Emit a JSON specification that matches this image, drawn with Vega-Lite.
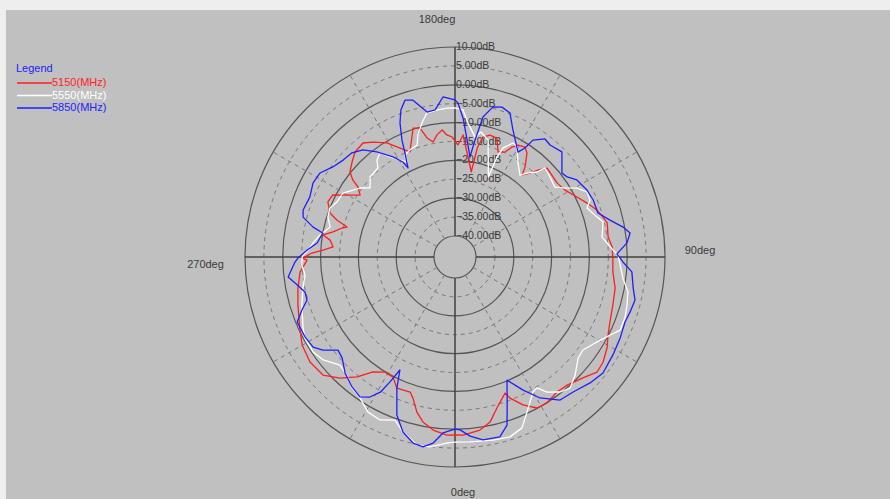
{
  "$schema": "https://vega.github.io/schema/vega-lite/v6.json",
  "width": 890,
  "height": 499,
  "padding": 0,
  "autosize": {"type": "none"},
  "background": "#eeeeee",
  "config": {"view": {"stroke": null}, "font": "Liberation Sans"},
  "datasets": {
    "rings": [{"db": 10}, {"db": 5}, {"db": 0}, {"db": -5}, {"db": -10}, {"db": -15}, {"db": -20}, {"db": -25}, {"db": -30}, {"db": -35}, {"db": -40}],
    "spokes": [{"angle": 0}, {"angle": 30}, {"angle": 60}, {"angle": 90}, {"angle": 120}, {"angle": 150}, {"angle": 180}, {"angle": 210}, {"angle": 240}, {"angle": 270}, {"angle": 300}, {"angle": 330}],
    "pattern": [
      {"freq": "5150(MHz)", "angle": 0, "db": 1.5}, {"freq": "5150(MHz)", "angle": 2.6, "db": 1.6}, {"freq": "5150(MHz)", "angle": 8.2, "db": 0.7}, {"freq": "5150(MHz)", "angle": 12.0, "db": -0.9}, {"freq": "5150(MHz)", "angle": 15.5, "db": -4.1}, {"freq": "5150(MHz)", "angle": 20.2, "db": -7.2}, {"freq": "5150(MHz)", "angle": 21.3, "db": -5.5}, {"freq": "5150(MHz)", "angle": 24.7, "db": -2.5}, {"freq": "5150(MHz)", "angle": 28.5, "db": -0.1}, {"freq": "5150(MHz)", "angle": 32.2, "db": 0.1}, {"freq": "5150(MHz)", "angle": 37.1, "db": -0.8}, {"freq": "5150(MHz)", "angle": 41.2, "db": -0.5}, {"freq": "5150(MHz)", "angle": 46.6, "db": 1.0}, {"freq": "5150(MHz)", "angle": 51.0, "db": 2.8}, {"freq": "5150(MHz)", "angle": 54.6, "db": 2.5}, {"freq": "5150(MHz)", "angle": 59.1, "db": 1.3}, {"freq": "5150(MHz)", "angle": 63.0, "db": -0.1}, {"freq": "5150(MHz)", "angle": 67.2, "db": -1.1}, {"freq": "5150(MHz)", "angle": 73.1, "db": -1.9}, {"freq": "5150(MHz)", "angle": 79.0, "db": -2.4}, {"freq": "5150(MHz)", "angle": 84.6, "db": -3.6}, {"freq": "5150(MHz)", "angle": 89.6, "db": -3.8}, {"freq": "5150(MHz)", "angle": 93.6, "db": -3.9}, {"freq": "5150(MHz)", "angle": 97.4, "db": -4.7}, {"freq": "5150(MHz)", "angle": 102.6, "db": -4.3}, {"freq": "5150(MHz)", "angle": 105.1, "db": -5.0}, {"freq": "5150(MHz)", "angle": 108.3, "db": -6.0}, {"freq": "5150(MHz)", "angle": 112.2, "db": -7.8}, {"freq": "5150(MHz)", "angle": 116.2, "db": -9.6}, {"freq": "5150(MHz)", "angle": 121.3, "db": -11.5}, {"freq": "5150(MHz)", "angle": 126.0, "db": -12.2}, {"freq": "5150(MHz)", "angle": 130.2, "db": -12.0}, {"freq": "5150(MHz)", "angle": 134.0, "db": -11.7}, {"freq": "5150(MHz)", "angle": 136.3, "db": -13.8}, {"freq": "5150(MHz)", "angle": 138.2, "db": -15.8}, {"freq": "5150(MHz)", "angle": 140.7, "db": -17.5}, {"freq": "5150(MHz)", "angle": 142.1, "db": -15.4}, {"freq": "5150(MHz)", "angle": 145.3, "db": -12.1}, {"freq": "5150(MHz)", "angle": 147.5, "db": -11.1}, {"freq": "5150(MHz)", "angle": 150.6, "db": -11.6}, {"freq": "5150(MHz)", "angle": 152.6, "db": -12.8}, {"freq": "5150(MHz)", "angle": 154.5, "db": -14.8}, {"freq": "5150(MHz)", "angle": 157.7, "db": -15.5}, {"freq": "5150(MHz)", "angle": 160.6, "db": -12.2}, {"freq": "5150(MHz)", "angle": 164.0, "db": -12.0}, {"freq": "5150(MHz)", "angle": 166.9, "db": -13.0}, {"freq": "5150(MHz)", "angle": 168.4, "db": -15.9}, {"freq": "5150(MHz)", "angle": 169.2, "db": -22.6}, {"freq": "5150(MHz)", "angle": 176.2, "db": -13.2}, {"freq": "5150(MHz)", "angle": 178.5, "db": -15.9}, {"freq": "5150(MHz)", "angle": 181.4, "db": -13.8}, {"freq": "5150(MHz)", "angle": 183.8, "db": -13.2}, {"freq": "5150(MHz)", "angle": 185.8, "db": -11.8}, {"freq": "5150(MHz)", "angle": 188.4, "db": -12.9}, {"freq": "5150(MHz)", "angle": 190.8, "db": -14.6}, {"freq": "5150(MHz)", "angle": 193.2, "db": -13.2}, {"freq": "5150(MHz)", "angle": 195.2, "db": -10.2}, {"freq": "5150(MHz)", "angle": 198.0, "db": -9.7}, {"freq": "5150(MHz)", "angle": 203.2, "db": -15.3}, {"freq": "5150(MHz)", "angle": 207.8, "db": -12.6}, {"freq": "5150(MHz)", "angle": 210.8, "db": -10.4}, {"freq": "5150(MHz)", "angle": 215.5, "db": -8.2}, {"freq": "5150(MHz)", "angle": 218.9, "db": -6.8}, {"freq": "5150(MHz)", "angle": 223.6, "db": -7.2}, {"freq": "5150(MHz)", "angle": 227.3, "db": -8.5}, {"freq": "5150(MHz)", "angle": 231.0, "db": -9.8}, {"freq": "5150(MHz)", "angle": 233.0, "db": -11.7}, {"freq": "5150(MHz)", "angle": 234.2, "db": -13.9}, {"freq": "5150(MHz)", "angle": 236.9, "db": -15.6}, {"freq": "5150(MHz)", "angle": 238.7, "db": -14.0}, {"freq": "5150(MHz)", "angle": 243.1, "db": -9.3}, {"freq": "5150(MHz)", "angle": 246.6, "db": -8.9}, {"freq": "5150(MHz)", "angle": 250.6, "db": -10.5}, {"freq": "5150(MHz)", "angle": 252.6, "db": -12.8}, {"freq": "5150(MHz)", "angle": 254.5, "db": -15.9}, {"freq": "5150(MHz)", "angle": 255.6, "db": -14.7}, {"freq": "5150(MHz)", "angle": 258.4, "db": -12.6}, {"freq": "5150(MHz)", "angle": 260.5, "db": -10.2}, {"freq": "5150(MHz)", "angle": 262.3, "db": -12.2}, {"freq": "5150(MHz)", "angle": 265.3, "db": -13.2}, {"freq": "5150(MHz)", "angle": 267.0, "db": -10.6}, {"freq": "5150(MHz)", "angle": 268.4, "db": -7.7}, {"freq": "5150(MHz)", "angle": 270.4, "db": -5.3}, {"freq": "5150(MHz)", "angle": 271.2, "db": -6.4}, {"freq": "5150(MHz)", "angle": 275.5, "db": -4.4}, {"freq": "5150(MHz)", "angle": 281.2, "db": -3.2}, {"freq": "5150(MHz)", "angle": 287.0, "db": -2.1}, {"freq": "5150(MHz)", "angle": 294.6, "db": -0.4}, {"freq": "5150(MHz)", "angle": 299.9, "db": 1.1}, {"freq": "5150(MHz)", "angle": 305.9, "db": 1.8}, {"freq": "5150(MHz)", "angle": 311.8, "db": 1.3}, {"freq": "5150(MHz)", "angle": 316.5, "db": -1.4}, {"freq": "5150(MHz)", "angle": 320.8, "db": -4.6}, {"freq": "5150(MHz)", "angle": 324.5, "db": -8.2}, {"freq": "5150(MHz)", "angle": 328.7, "db": -9.9}, {"freq": "5150(MHz)", "angle": 332.7, "db": -9.8}, {"freq": "5150(MHz)", "angle": 336.1, "db": -7.6}, {"freq": "5150(MHz)", "angle": 341.6, "db": -7.9}, {"freq": "5150(MHz)", "angle": 343.4, "db": -6.6}, {"freq": "5150(MHz)", "angle": 346.2, "db": -3.3}, {"freq": "5150(MHz)", "angle": 349.0, "db": -1.1}, {"freq": "5150(MHz)", "angle": 352.8, "db": 0.6}, {"freq": "5150(MHz)", "angle": 357.4, "db": 1.6}, {"freq": "5150(MHz)", "angle": 360, "db": 1.5},
      {"freq": "5550(MHz)", "angle": 0, "db": 3.4}, {"freq": "5550(MHz)", "angle": 4.6, "db": 3.5}, {"freq": "5550(MHz)", "angle": 11.7, "db": 3.9}, {"freq": "5550(MHz)", "angle": 17.0, "db": 4.2}, {"freq": "5550(MHz)", "angle": 21.4, "db": 3.0}, {"freq": "5550(MHz)", "angle": 24.9, "db": -0.3}, {"freq": "5550(MHz)", "angle": 30.0, "db": -4.3}, {"freq": "5550(MHz)", "angle": 32.0, "db": -4.7}, {"freq": "5550(MHz)", "angle": 34.3, "db": -2.3}, {"freq": "5550(MHz)", "angle": 37.9, "db": -0.3}, {"freq": "5550(MHz)", "angle": 41.3, "db": 0.6}, {"freq": "5550(MHz)", "angle": 45.5, "db": -1.0}, {"freq": "5550(MHz)", "angle": 50.6, "db": -3.4}, {"freq": "5550(MHz)", "angle": 54.0, "db": -3.7}, {"freq": "5550(MHz)", "angle": 59.1, "db": -1.8}, {"freq": "5550(MHz)", "angle": 63.3, "db": 0.4}, {"freq": "5550(MHz)", "angle": 66.1, "db": 2.2}, {"freq": "5550(MHz)", "angle": 70.3, "db": 2.2}, {"freq": "5550(MHz)", "angle": 74.4, "db": 1.7}, {"freq": "5550(MHz)", "angle": 78.6, "db": 1.1}, {"freq": "5550(MHz)", "angle": 82.9, "db": -0.8}, {"freq": "5550(MHz)", "angle": 87.2, "db": -1.8}, {"freq": "5550(MHz)", "angle": 90.7, "db": -2.4}, {"freq": "5550(MHz)", "angle": 92.5, "db": -3.7}, {"freq": "5550(MHz)", "angle": 95.3, "db": -5.2}, {"freq": "5550(MHz)", "angle": 97.7, "db": -6.3}, {"freq": "5550(MHz)", "angle": 103.3, "db": -5.3}, {"freq": "5550(MHz)", "angle": 105.7, "db": -6.5}, {"freq": "5550(MHz)", "angle": 110.4, "db": -8.3}, {"freq": "5550(MHz)", "angle": 112.9, "db": -6.8}, {"freq": "5550(MHz)", "angle": 116.2, "db": -6.6}, {"freq": "5550(MHz)", "angle": 119.5, "db": -8.5}, {"freq": "5550(MHz)", "angle": 122.6, "db": -11.6}, {"freq": "5550(MHz)", "angle": 125.0, "db": -13.3}, {"freq": "5550(MHz)", "angle": 130.1, "db": -12.7}, {"freq": "5550(MHz)", "angle": 134.7, "db": -12.1}, {"freq": "5550(MHz)", "angle": 136.0, "db": -14.3}, {"freq": "5550(MHz)", "angle": 139.0, "db": -16.1}, {"freq": "5550(MHz)", "angle": 141.6, "db": -17.9}, {"freq": "5550(MHz)", "angle": 146.2, "db": -15.6}, {"freq": "5550(MHz)", "angle": 150.6, "db": -12.1}, {"freq": "5550(MHz)", "angle": 153.0, "db": -11.7}, {"freq": "5550(MHz)", "angle": 156.2, "db": -14.0}, {"freq": "5550(MHz)", "angle": 157.2, "db": -16.8}, {"freq": "5550(MHz)", "angle": 157.4, "db": -22.6}, {"freq": "5550(MHz)", "angle": 164.2, "db": -13.4}, {"freq": "5550(MHz)", "angle": 168.3, "db": -11.8}, {"freq": "5550(MHz)", "angle": 170.5, "db": -13.4}, {"freq": "5550(MHz)", "angle": 174.5, "db": -9.9}, {"freq": "5550(MHz)", "angle": 176.9, "db": -6.6}, {"freq": "5550(MHz)", "angle": 180, "db": -6.1}, {"freq": "5550(MHz)", "angle": 183.1, "db": -6.1}, {"freq": "5550(MHz)", "angle": 187.0, "db": -6.4}, {"freq": "5550(MHz)", "angle": 191.0, "db": -6.7}, {"freq": "5550(MHz)", "angle": 193.8, "db": -9.0}, {"freq": "5550(MHz)", "angle": 196.9, "db": -11.8}, {"freq": "5550(MHz)", "angle": 198.7, "db": -14.3}, {"freq": "5550(MHz)", "angle": 202.8, "db": -14.8}, {"freq": "5550(MHz)", "angle": 206.1, "db": -15.5}, {"freq": "5550(MHz)", "angle": 206.8, "db": -17.4}, {"freq": "5550(MHz)", "angle": 209.6, "db": -16.1}, {"freq": "5550(MHz)", "angle": 213.0, "db": -14.0}, {"freq": "5550(MHz)", "angle": 215.8, "db": -11.6}, {"freq": "5550(MHz)", "angle": 218.8, "db": -12.6}, {"freq": "5550(MHz)", "angle": 220.9, "db": -14.4}, {"freq": "5550(MHz)", "angle": 226.7, "db": -14.7}, {"freq": "5550(MHz)", "angle": 230.9, "db": -16.6}, {"freq": "5550(MHz)", "angle": 234.0, "db": -14.5}, {"freq": "5550(MHz)", "angle": 236.7, "db": -13.3}, {"freq": "5550(MHz)", "angle": 240.3, "db": -11.4}, {"freq": "5550(MHz)", "angle": 245.0, "db": -11.1}, {"freq": "5550(MHz)", "angle": 248.6, "db": -10.0}, {"freq": "5550(MHz)", "angle": 252.5, "db": -10.3}, {"freq": "5550(MHz)", "angle": 256.5, "db": -11.6}, {"freq": "5550(MHz)", "angle": 260.7, "db": -9.4}, {"freq": "5550(MHz)", "angle": 264.4, "db": -7.8}, {"freq": "5550(MHz)", "angle": 267.3, "db": -6.6}, {"freq": "5550(MHz)", "angle": 270, "db": -5.1}, {"freq": "5550(MHz)", "angle": 273.0, "db": -5.0}, {"freq": "5550(MHz)", "angle": 276.8, "db": -5.6}, {"freq": "5550(MHz)", "angle": 281.5, "db": -4.5}, {"freq": "5550(MHz)", "angle": 287.4, "db": -3.1}, {"freq": "5550(MHz)", "angle": 295.0, "db": -1.2}, {"freq": "5550(MHz)", "angle": 298.4, "db": -0.4}, {"freq": "5550(MHz)", "angle": 303.8, "db": -0.4}, {"freq": "5550(MHz)", "angle": 308.0, "db": -1.3}, {"freq": "5550(MHz)", "angle": 313.2, "db": -3.8}, {"freq": "5550(MHz)", "angle": 317.5, "db": -3.2}, {"freq": "5550(MHz)", "angle": 321.8, "db": -1.5}, {"freq": "5550(MHz)", "angle": 326.0, "db": -0.6}, {"freq": "5550(MHz)", "angle": 330.7, "db": 1.5}, {"freq": "5550(MHz)", "angle": 335.3, "db": 1.9}, {"freq": "5550(MHz)", "angle": 339.8, "db": 0.4}, {"freq": "5550(MHz)", "angle": 343.5, "db": 2.8}, {"freq": "5550(MHz)", "angle": 348.6, "db": 5.2}, {"freq": "5550(MHz)", "angle": 352.5, "db": 5.1}, {"freq": "5550(MHz)", "angle": 357.5, "db": 3.7}, {"freq": "5550(MHz)", "angle": 360, "db": 3.4},
      {"freq": "5850(MHz)", "angle": 0, "db": 0.0}, {"freq": "5850(MHz)", "angle": 1.7, "db": 0.2}, {"freq": "5850(MHz)", "angle": 4.8, "db": 2.0}, {"freq": "5850(MHz)", "angle": 8.7, "db": 3.4}, {"freq": "5850(MHz)", "angle": 14.0, "db": 3.5}, {"freq": "5850(MHz)", "angle": 17.2, "db": 1.0}, {"freq": "5850(MHz)", "angle": 19.4, "db": -4.0}, {"freq": "5850(MHz)", "angle": 22.9, "db": -10.2}, {"freq": "5850(MHz)", "angle": 27.1, "db": -6.0}, {"freq": "5850(MHz)", "angle": 31.1, "db": -2.0}, {"freq": "5850(MHz)", "angle": 36.3, "db": 1.4}, {"freq": "5850(MHz)", "angle": 41.2, "db": 1.9}, {"freq": "5850(MHz)", "angle": 47.0, "db": 3.3}, {"freq": "5850(MHz)", "angle": 51.9, "db": 4.2}, {"freq": "5850(MHz)", "angle": 58.2, "db": 3.6}, {"freq": "5850(MHz)", "angle": 63.9, "db": 3.1}, {"freq": "5850(MHz)", "angle": 69.1, "db": 2.6}, {"freq": "5850(MHz)", "angle": 72.6, "db": 3.0}, {"freq": "5850(MHz)", "angle": 76.6, "db": 3.4}, {"freq": "5850(MHz)", "angle": 80.1, "db": 2.3}, {"freq": "5850(MHz)", "angle": 85.2, "db": 1.4}, {"freq": "5850(MHz)", "angle": 88.3, "db": -1.1}, {"freq": "5850(MHz)", "angle": 91.1, "db": -2.7}, {"freq": "5850(MHz)", "angle": 94.7, "db": 0.1}, {"freq": "5850(MHz)", "angle": 97.8, "db": 1.2}, {"freq": "5850(MHz)", "angle": 100.1, "db": -0.4}, {"freq": "5850(MHz)", "angle": 103.4, "db": -3.4}, {"freq": "5850(MHz)", "angle": 107.1, "db": -6.0}, {"freq": "5850(MHz)", "angle": 112.4, "db": -6.0}, {"freq": "5850(MHz)", "angle": 116.9, "db": -6.4}, {"freq": "5850(MHz)", "angle": 122.3, "db": -7.4}, {"freq": "5850(MHz)", "angle": 125.5, "db": -9.1}, {"freq": "5850(MHz)", "angle": 128.1, "db": -9.6}, {"freq": "5850(MHz)", "angle": 134.5, "db": -5.9}, {"freq": "5850(MHz)", "angle": 139.7, "db": -6.7}, {"freq": "5850(MHz)", "angle": 142.7, "db": -6.3}, {"freq": "5850(MHz)", "angle": 146.3, "db": -8.4}, {"freq": "5850(MHz)", "angle": 147.3, "db": -11.3}, {"freq": "5850(MHz)", "angle": 149.0, "db": -13.2}, {"freq": "5850(MHz)", "angle": 155.5, "db": -8.6}, {"freq": "5850(MHz)", "angle": 159.1, "db": -4.8}, {"freq": "5850(MHz)", "angle": 162.6, "db": -4.0}, {"freq": "5850(MHz)", "angle": 165.8, "db": -4.6}, {"freq": "5850(MHz)", "angle": 168.7, "db": -7.8}, {"freq": "5850(MHz)", "angle": 170.3, "db": -14.2}, {"freq": "5850(MHz)", "angle": 171.5, "db": -18.8}, {"freq": "5850(MHz)", "angle": 174.1, "db": -14.4}, {"freq": "5850(MHz)", "angle": 176.7, "db": -8.7}, {"freq": "5850(MHz)", "angle": 178.9, "db": -4.8}, {"freq": "5850(MHz)", "angle": 180, "db": -4.0}, {"freq": "5850(MHz)", "angle": 184.3, "db": -3.1}, {"freq": "5850(MHz)", "angle": 187.7, "db": -6.3}, {"freq": "5850(MHz)", "angle": 190.9, "db": -6.5}, {"freq": "5850(MHz)", "angle": 195.0, "db": -2.6}, {"freq": "5850(MHz)", "angle": 197.7, "db": -2.0}, {"freq": "5850(MHz)", "angle": 200.2, "db": -4.1}, {"freq": "5850(MHz)", "angle": 202.3, "db": -7.2}, {"freq": "5850(MHz)", "angle": 204.4, "db": -11.6}, {"freq": "5850(MHz)", "angle": 205.7, "db": -15.0}, {"freq": "5850(MHz)", "angle": 207.8, "db": -18.9}, {"freq": "5850(MHz)", "angle": 208.7, "db": -16.9}, {"freq": "5850(MHz)", "angle": 211.8, "db": -14.4}, {"freq": "5850(MHz)", "angle": 216.6, "db": -10.9}, {"freq": "5850(MHz)", "angle": 220.7, "db": -8.2}, {"freq": "5850(MHz)", "angle": 224.7, "db": -6.8}, {"freq": "5850(MHz)", "angle": 229.1, "db": -6.4}, {"freq": "5850(MHz)", "angle": 233.6, "db": -5.4}, {"freq": "5850(MHz)", "angle": 238.1, "db": -3.5}, {"freq": "5850(MHz)", "angle": 242.5, "db": -3.2}, {"freq": "5850(MHz)", "angle": 247.5, "db": -4.0}, {"freq": "5850(MHz)", "angle": 252.8, "db": -3.5}, {"freq": "5850(MHz)", "angle": 255.3, "db": -4.0}, {"freq": "5850(MHz)", "angle": 258.1, "db": -7.2}, {"freq": "5850(MHz)", "angle": 259.7, "db": -10.0}, {"freq": "5850(MHz)", "angle": 264.2, "db": -8.9}, {"freq": "5850(MHz)", "angle": 267.3, "db": -6.4}, {"freq": "5850(MHz)", "angle": 270.4, "db": -4.0}, {"freq": "5850(MHz)", "angle": 271.8, "db": -3.2}, {"freq": "5850(MHz)", "angle": 276.8, "db": -1.1}, {"freq": "5850(MHz)", "angle": 279.2, "db": -2.7}, {"freq": "5850(MHz)", "angle": 283.1, "db": -4.8}, {"freq": "5850(MHz)", "angle": 286.2, "db": -4.8}, {"freq": "5850(MHz)", "angle": 289.1, "db": -2.7}, {"freq": "5850(MHz)", "angle": 292.4, "db": -0.4}, {"freq": "5850(MHz)", "angle": 298.1, "db": -0.6}, {"freq": "5850(MHz)", "angle": 302.4, "db": -1.1}, {"freq": "5850(MHz)", "angle": 305.2, "db": -2.8}, {"freq": "5850(MHz)", "angle": 308.5, "db": -6.0}, {"freq": "5850(MHz)", "angle": 311.8, "db": -5.5}, {"freq": "5850(MHz)", "angle": 316.5, "db": -3.3}, {"freq": "5850(MHz)", "angle": 321.6, "db": -1.7}, {"freq": "5850(MHz)", "angle": 325.8, "db": -0.8}, {"freq": "5850(MHz)", "angle": 328.7, "db": -2.2}, {"freq": "5850(MHz)", "angle": 331.1, "db": -4.7}, {"freq": "5850(MHz)", "angle": 332.5, "db": -8.3}, {"freq": "5850(MHz)", "angle": 334.0, "db": -12.3}, {"freq": "5850(MHz)", "angle": 336.1, "db": -7.6}, {"freq": "5850(MHz)", "angle": 339.8, "db": -1.0}, {"freq": "5850(MHz)", "angle": 343.5, "db": 2.8}, {"freq": "5850(MHz)", "angle": 347.3, "db": 4.9}, {"freq": "5850(MHz)", "angle": 350.4, "db": 5.4}, {"freq": "5850(MHz)", "angle": 353.3, "db": 4.0}, {"freq": "5850(MHz)", "angle": 356.1, "db": 1.1}, {"freq": "5850(MHz)", "angle": 360, "db": 0.0}
    ]
  },
  "layer": [
    {
      "data": {"values": [{}]},
      "mark": {"type": "rect", "fill": "#c0c0c0"},
      "encoding": {
        "x": {"datum": -449, "type": "quantitative", "scale": {"domain": [-455, 435], "nice": false, "zero": false}, "axis": null},
        "x2": {"datum": 435},
        "y": {"datum": -247, "type": "quantitative", "scale": {"domain": [-257, 242], "nice": false, "zero": false, "reverse": true}, "axis": null},
        "y2": {"datum": 242}
      }
    },
    {
      "data": {"name": "rings"},
      "transform": [
        {"filter": "datum.db % 10 != 0"},
        {"calculate": "21 + (datum.db + 40) * 189 / 50", "as": "r"},
        {"calculate": "4 * datum.r * datum.r", "as": "s"}
      ],
      "mark": {"type": "point", "shape": "circle", "filled": false, "stroke": "#777777", "strokeWidth": 1, "strokeDash": [4, 4], "opacity": 1},
      "encoding": {
        "x": {"datum": 0, "type": "quantitative"},
        "y": {"datum": 0, "type": "quantitative"},
        "size": {"field": "s", "type": "quantitative", "scale": null}
      }
    },
    {
      "data": {"name": "rings"},
      "transform": [
        {"filter": "datum.db % 10 == 0"},
        {"calculate": "21 + (datum.db + 40) * 189 / 50", "as": "r"},
        {"calculate": "4 * datum.r * datum.r", "as": "s"}
      ],
      "mark": {"type": "point", "shape": "circle", "filled": false, "stroke": "#555555", "strokeWidth": 1.2, "opacity": 1},
      "encoding": {
        "x": {"datum": 0, "type": "quantitative"},
        "y": {"datum": 0, "type": "quantitative"},
        "size": {"field": "s", "type": "quantitative", "scale": null}
      }
    },
    {
      "data": {"name": "spokes"},
      "transform": [
        {"filter": "datum.angle % 90 != 0"},
        {"calculate": "21 * sin(datum.angle * PI / 180)", "as": "x1"},
        {"calculate": "21 * cos(datum.angle * PI / 180)", "as": "y1"},
        {"calculate": "210 * sin(datum.angle * PI / 180)", "as": "x2"},
        {"calculate": "210 * cos(datum.angle * PI / 180)", "as": "y2"}
      ],
      "mark": {"type": "rule", "stroke": "#777777", "strokeWidth": 1, "strokeDash": [4, 4]},
      "encoding": {
        "x": {"field": "x1", "type": "quantitative"},
        "y": {"field": "y1", "type": "quantitative"},
        "x2": {"field": "x2"},
        "y2": {"field": "y2"}
      }
    },
    {
      "data": {"name": "spokes"},
      "transform": [
        {"filter": "datum.angle % 90 == 0"},
        {"calculate": "21 * sin(datum.angle * PI / 180)", "as": "x1"},
        {"calculate": "21 * cos(datum.angle * PI / 180)", "as": "y1"},
        {"calculate": "210 * sin(datum.angle * PI / 180)", "as": "x2"},
        {"calculate": "210 * cos(datum.angle * PI / 180)", "as": "y2"}
      ],
      "mark": {"type": "rule", "stroke": "#404040", "strokeWidth": 1.5},
      "encoding": {
        "x": {"field": "x1", "type": "quantitative"},
        "y": {"field": "y1", "type": "quantitative"},
        "x2": {"field": "x2"},
        "y2": {"field": "y2"}
      }
    },
    {
      "data": {"name": "rings"},
      "transform": [
        {"calculate": "-(21 + (datum.db + 40) * 189 / 50)", "as": "ry"},
        {"calculate": "format(datum.db, '.2f') + 'dB'", "as": "label"}
      ],
      "mark": {"type": "text", "align": "left", "baseline": "middle", "dx": 1, "fontSize": 10.5, "fill": "#3a3a3a"},
      "encoding": {
        "x": {"datum": 0, "type": "quantitative"},
        "y": {"field": "ry", "type": "quantitative"},
        "text": {"field": "label"}
      }
    },
    {
      "data": {"name": "pattern"},
      "transform": [
        {"calculate": "21 + (datum.db + 40) * 189 / 50", "as": "r"},
        {"calculate": "datum.r * sin(datum.angle * PI / 180)", "as": "px"},
        {"calculate": "datum.r * cos(datum.angle * PI / 180)", "as": "py"}
      ],
      "mark": {"type": "line", "strokeWidth": 1.3, "strokeJoin": "round"},
      "encoding": {
        "x": {"field": "px", "type": "quantitative"},
        "y": {"field": "py", "type": "quantitative"},
        "order": {"field": "angle", "type": "quantitative"},
        "color": {
          "field": "freq",
          "type": "nominal",
          "scale": {"domain": ["5150(MHz)", "5550(MHz)", "5850(MHz)"], "range": ["#ff1e1e", "#ffffff", "#1e1eff"]},
          "legend": {
            "orient": "none",
            "legendX": 16,
            "legendY": 63,
            "title": "Legend",
            "titleColor": "#2020ff",
            "titleFontSize": 11,
            "titleFontWeight": "normal",
            "titlePadding": 3,
            "symbolType": "M-1,0H6",
            "symbolSize": 100,
            "symbolStrokeWidth": 1.3,
            "labelFontSize": 11,
            "labelOffset": 24,
            "rowPadding": 1.5,
            "padding": 0,
            "encode": {"labels": {"update": {"fill": {"scale": "color", "field": "value"}}}}
          }
        }
      }
    },
    {
      "data": {"values": [{}]},
      "mark": {"type": "text", "text": "180deg", "align": "center", "baseline": "middle", "fontSize": 11, "fill": "#3a3a3a"},
      "encoding": {"x": {"datum": -18, "type": "quantitative"}, "y": {"datum": -237, "type": "quantitative"}}
    },
    {
      "data": {"values": [{}]},
      "mark": {"type": "text", "text": "0deg", "align": "center", "baseline": "middle", "fontSize": 11, "fill": "#3a3a3a"},
      "encoding": {"x": {"datum": 8, "type": "quantitative"}, "y": {"datum": 236, "type": "quantitative"}}
    },
    {
      "data": {"values": [{}]},
      "mark": {"type": "text", "text": "270deg", "align": "center", "baseline": "middle", "fontSize": 11, "fill": "#3a3a3a"},
      "encoding": {"x": {"datum": -249.5, "type": "quantitative"}, "y": {"datum": 8, "type": "quantitative"}}
    },
    {
      "data": {"values": [{}]},
      "mark": {"type": "text", "text": "90deg", "align": "center", "baseline": "middle", "fontSize": 11, "fill": "#3a3a3a"},
      "encoding": {"x": {"datum": 245, "type": "quantitative"}, "y": {"datum": -6, "type": "quantitative"}}
    }
  ]
}
